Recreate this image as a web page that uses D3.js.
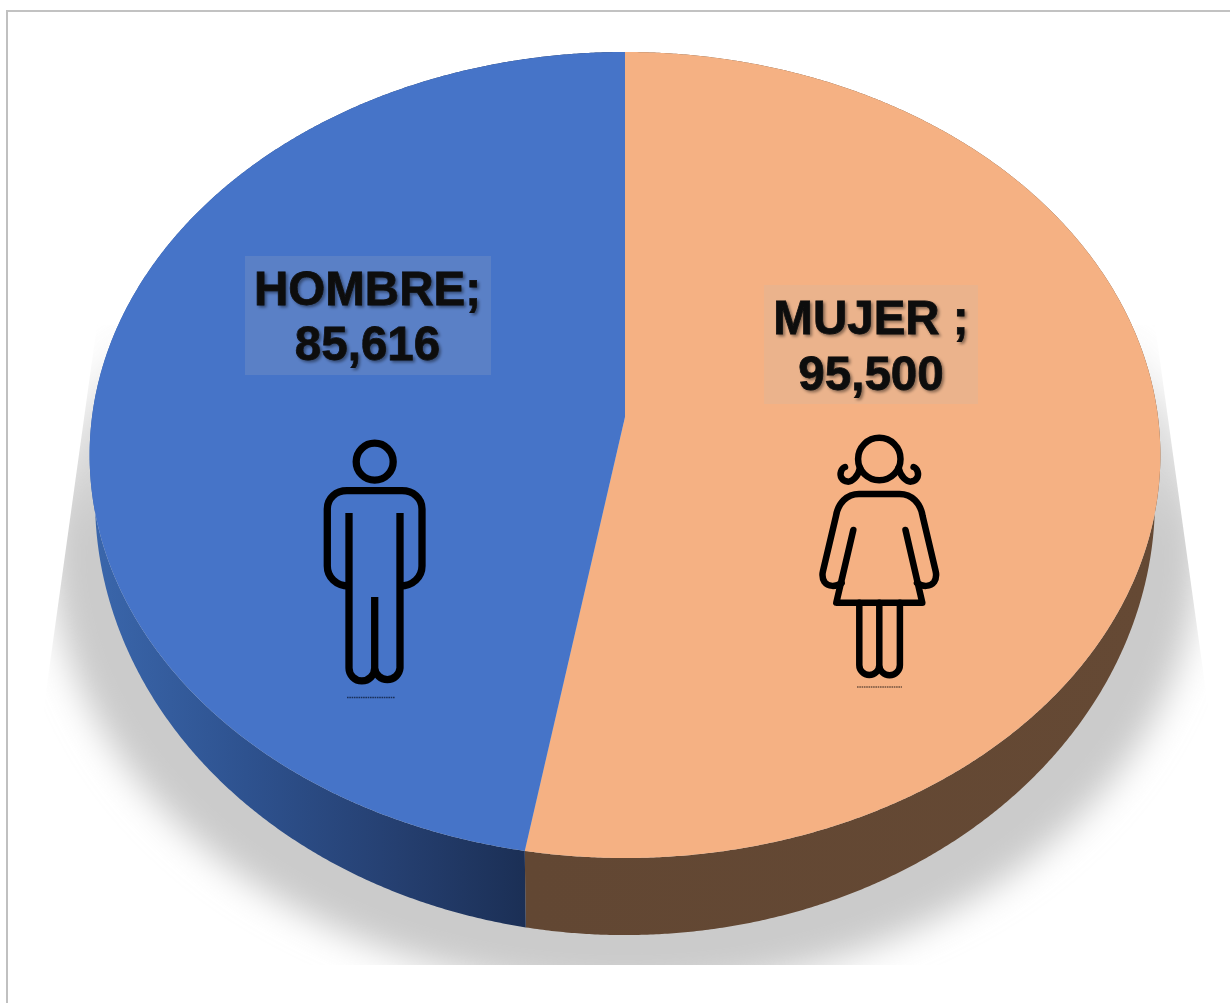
<!DOCTYPE html>
<html>
<head>
<meta charset="utf-8">
<style>
html,body{margin:0;padding:0;background:#fff;overflow:hidden}
svg{display:block}
text{font-family:"Liberation Sans",Arial,sans-serif;font-weight:700}
</style>
<script src="https://cdn.jsdelivr.net/npm/d3@7"></script>
</head>
<body>
<script>
const categories = ["MUJER ", "HOMBRE"];
const values = [95500, 85616];
const topColors = ["#f5b183", "#4674c8"];
const sideFills = ["url(#sideBrown)", "url(#sideBlue)"];

const W = 1230, H = 1003;
const svg = d3.select("body").append("svg").attr("width", W).attr("height", H);
const defs = svg.append("defs");

function hGrad(id, x1, x2, stops) {
  const g = defs.append("linearGradient").attr("id", id)
    .attr("gradientUnits", "userSpaceOnUse")
    .attr("x1", x1).attr("x2", x2).attr("y1", 0).attr("y2", 0);
  stops.forEach(s => g.append("stop").attr("offset", s[0]).attr("stop-color", s[1]));
}
hGrad("sideBlue", 95, 527, [[0, "#3a66ab"], [0.35, "#2e528f"], [0.7, "#253f70"], [1, "#1b2f55"]]);
hGrad("sideBrown", 527, 1155, [[0, "#624733"], [1, "#654934"]]);

const shGrad = defs.append("linearGradient").attr("id", "shadowFade")
  .attr("gradientUnits", "userSpaceOnUse").attr("x1", 0).attr("x2", 0).attr("y1", 325).attr("y2", 530);
shGrad.append("stop").attr("offset", 0).attr("stop-color", "#cbcbcb").attr("stop-opacity", 0);
shGrad.append("stop").attr("offset", 0.45).attr("stop-color", "#cbcbcb").attr("stop-opacity", 0.6);
shGrad.append("stop").attr("offset", 1).attr("stop-color", "#cbcbcb").attr("stop-opacity", 1);

defs.append("filter").attr("id", "blur").attr("x", "-20%").attr("y", "-20%").attr("width", "140%").attr("height", "140%")
  .append("feGaussianBlur").attr("stdDeviation", 17);
defs.append("clipPath").attr("id", "shadowClip").append("path")
  .attr("d", "M97,325 L40,735 L40,965 L1212,965 L1212,735 L1155,325 Z");

const txtF = defs.append("filter").attr("id", "textShadow").attr("x", "-10%").attr("y", "-20%").attr("width", "120%").attr("height", "140%");
txtF.append("feDropShadow").attr("dx", 2).attr("dy", 2).attr("stdDeviation", 1.4).attr("flood-color", "#000").attr("flood-opacity", 0.42);

// frame
svg.append("rect").attr("x", 6).attr("y", 10).attr("width", W - 6).attr("height", 2).attr("fill", "#c2c2c2");
svg.append("rect").attr("x", 6).attr("y", 10).attr("width", 2).attr("height", H - 10).attr("fill", "#c0c0c0");

// shadow
svg.append("g").attr("clip-path", "url(#shadowClip)")
  .append("ellipse").attr("cx", 625).attr("cy", 545).attr("rx", 575).attr("ry", 445)
  .attr("fill", "url(#shadowFade)").attr("filter", "url(#blur)");

// perspective projection of the pie's circle onto the page
const persp = -0.0943;
const uScale = d3.scaleLinear().domain([-1, 1]);
const planes = {
  top:    { cx: 625, w: 533,   a: 360.1, b: 417 },
  bottom: { cx: 625, w: 527.6, a: 387.9, b: 459 }
};
function project(angle, plane) {
  const p = planes[plane];
  uScale.range([p.cx - p.w, p.cx + p.w]);
  const u = Math.sin(angle), v = -Math.cos(angle), d = 1 + persp * v;
  return [p.cx + (uScale(u) - p.cx) / d, (p.a * v + p.b) / d];
}
function samples(a0, a1) {
  const n = Math.max(2, Math.ceil((a1 - a0) / 0.005));
  return d3.range(n + 1).map(i => a0 + (a1 - a0) * i / n);
}

const pie = d3.pie().sort(null).value(d => d)(values);
const line = d3.line();

// sides
svg.append("g").selectAll("path").data(pie).join("path")
  .attr("d", d => {
    const as = samples(d.startAngle, d.endAngle);
    return line(as.map(a => project(a, "top")).concat(as.slice().reverse().map(a => project(a, "bottom")))) + "Z";
  })
  .attr("fill", (d, i) => sideFills[i]);

// top face
svg.append("g").selectAll("path").data(pie).join("path")
  .attr("d", d => line([[planes.top.cx, planes.top.b]].concat(samples(d.startAngle, d.endAngle).map(a => project(a, "top")))) + "Z")
  .attr("fill", (d, i) => topColors[i]);

// labels
const fmt = d3.format(",");
const labelBoxes = [
  { x: 764, y: 285, w: 214, h: 119, cx: 871, y1: 334, y2: 390 },
  { x: 245, y: 256, w: 246, h: 119, cx: 367.5, y1: 305, y2: 360 }
];
const lab = svg.append("g").selectAll("g").data(pie).join("g");
lab.append("rect")
  .attr("x", (d, i) => labelBoxes[i].x).attr("y", (d, i) => labelBoxes[i].y)
  .attr("width", (d, i) => labelBoxes[i].w).attr("height", (d, i) => labelBoxes[i].h)
  .attr("fill", "#bfbfbf").attr("fill-opacity", 0.17);
const txt = lab.append("g").attr("filter", "url(#textShadow)")
  .attr("fill", "#0d0d0d").attr("stroke", "#0d0d0d").attr("stroke-width", 0.8)
  .attr("font-size", 47.5).attr("text-anchor", "middle");
txt.append("text").attr("x", (d, i) => labelBoxes[i].cx).attr("y", (d, i) => labelBoxes[i].y1)
  .attr("xml:space", "preserve").text((d, i) => categories[i] + ";");
txt.append("text").attr("x", (d, i) => labelBoxes[i].cx).attr("y", (d, i) => labelBoxes[i].y2)
  .text(d => fmt(d.data));

// man icon
const man = svg.append("g").attr("fill", "none").attr("stroke", "#000").attr("stroke-width", 7.3);
man.append("circle").attr("cx", 374.7).attr("cy", 461.7).attr("r", 18.5);
man.append("path").attr("d",
  "M349,586 C336,586 327.3,577 327.3,566 L327.3,509 C327.3,498 336,490.7 347,490.7 L402,490.7 C413,490.7 422,498 422,509 L422,566 C422,577 413,586 400,586");
man.append("path").attr("d",
  "M349,513 L349,668 A12.85,12.85 0 0 0 374.7,668 L374.7,597 M374.7,668 A12.7,12.7 0 0 0 400,668 L400,513");
// illegible credit under the icon
svg.append("line").attr("x1", 347).attr("x2", 395).attr("y1", 697.5).attr("y2", 697.5)
  .attr("stroke", "#10203f").attr("stroke-width", 1.4).attr("stroke-dasharray", "1.6 0.7").attr("opacity", 0.8);

// woman icon
const wom = svg.append("g").attr("fill", "none").attr("stroke", "#000").attr("stroke-width", 6.5)
  .attr("stroke-linecap", "round").attr("stroke-linejoin", "round");
wom.append("circle").attr("cx", 879.3).attr("cy", 459).attr("r", 21.2);
wom.append("path").attr("d", "M860,468 C858,477 852,482 847.5,481.6 C842,481 839.5,476 841,471.5 C841.8,469 843.5,467.5 845,467");
wom.append("path").attr("d", "M898.6,468 C900.6,477 906.6,482 911.1,481.6 C916.6,481 919.1,476 917.6,471.5 C916.8,469 915.1,467.5 913.6,467");
wom.append("path").attr("d",
  "M841.6,583 C836,587 828,587 824.5,582 C822,578 822,575 823,571 L836,516 C838,503 847,494 859,494 L899.6,494 C911.6,494 920.6,503 922.6,516 L935.6,571 C936.6,575 936.6,578 934.1,582 C930.6,587 922.6,587 917,583");
wom.append("path").attr("d", "M853.3,530 L836.3,602.7 L922.3,602.7 L905.5,530");
wom.append("path").attr("d", "M859.3,602.7 L859.3,665 A10,10 0 0 0 879.3,665 L879.3,602.7 M879.3,665 A10.3,10.3 0 0 0 899.9,665 L899.9,602.7");
svg.append("line").attr("x1", 857).attr("x2", 902).attr("y1", 687).attr("y2", 687)
  .attr("stroke", "#3a2a20").attr("stroke-width", 1.3).attr("stroke-dasharray", "1.6 0.7").attr("opacity", 0.7);
</script>
</body>
</html>
